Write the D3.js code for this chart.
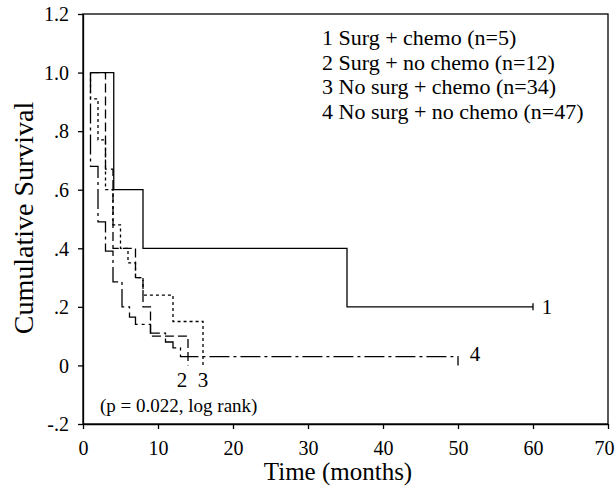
<!DOCTYPE html>
<html>
<head>
<meta charset="utf-8">
<script src="https://cdn.jsdelivr.net/npm/d3@7"></script>
<style>
  body{margin:0;background:#fff;}
  svg text{font-family:"Liberation Serif","Times New Roman",serif;fill:#000;}
</style>
</head>
<body>
<svg id="svg" width="616" height="490"></svg>
<script>
// axis ticks
var xTicks=[0,10,20,30,40,50,60,70];
var yTicks=[-0.2,0,0.2,0.4,0.6,0.8,1.0,1.2];
var yTickLabels=["-.2","0",".2",".4",".6",".8","1.0","1.2"];

// groups (legend)
var groupNames=["1 Surg + chemo (n=5)","2 Surg + no chemo (n=12)","3 No surg + chemo (n=34)","4 No surg + no chemo (n=47)"];
var groupIds=["1","2","3","4"];

// survival steps: [time, survival after drop]
var startTime=1;
var surv1=[[4.1,0.6],[8,0.4],[35.2,0.2]];
var surv2=[[3,0.67],[4,0.4],[7,0.3],[8,0.2],[9,0.1],[14,0]];
var surv3=[[1,0.91],[2,0.77],[3,0.6],[4,0.48],[5,0.4],[6,0.35],[7,0.3],[8,0.24],[12,0.15],[16,0]];
var surv4=[[1,0.68],[2,0.49],[3,0.39],[4,0.285],[5.2,0.2],[6.2,0.165],[7,0.14],[9,0.11],[11,0.08],[12,0.06],[13,0.03],[50,0]];
var endTime=[60,14,16,50];
var censored1=[[60,0.2]];

var plot={left:83,right:608,top:14,bottom:424};
var lw=1.3;

var x=d3.scaleLinear().domain([0,70]).range([plot.left,plot.right]);
var y=d3.scaleLinear().domain([-0.2,1.2]).range([plot.bottom,plot.top]);

var svg=d3.select('svg');

// frame
svg.append('rect')
  .attr('x',plot.left).attr('y',plot.top)
  .attr('width',plot.right-plot.left).attr('height',plot.bottom-plot.top)
  .attr('fill','none').attr('stroke','#000').attr('stroke-width',lw);

var xAxis=svg.append('g')
  .attr('transform','translate(0,'+plot.bottom+')')
  .call(d3.axisBottom(x).tickValues(xTicks).tickSize(5).tickSizeOuter(0).tickPadding(7));
var yAxis=svg.append('g')
  .attr('transform','translate('+plot.left+',0)')
  .call(d3.axisLeft(y).tickValues(yTicks).tickSize(5).tickSizeOuter(0).tickPadding(9)
    .tickFormat(function(d,i){return yTickLabels[i];}));
[xAxis,yAxis].forEach(function(a){
  a.selectAll('path,line').attr('stroke','#000').attr('stroke-width',lw);
  a.selectAll('text').attr('font-family','Liberation Serif').attr('font-size',20).attr('fill','#000');
});
xAxis.selectAll('text').attr('dy','0.95em');
// last label sits at the page edge, nudge it in
xAxis.selectAll('text').filter(function(d){return d===70;}).attr('dx',-4);
yAxis.selectAll('text').attr('dy','0.34em');

// step paths
function stepPath(steps,tEnd){
  var p='M'+x(startTime)+','+y(1);
  steps.forEach(function(s){
    p+='H'+x(s[0])+'V'+y(s[1]);
  });
  var last=steps[steps.length-1];
  if(tEnd>last[0]) p+='H'+x(tEnd);
  return p;
}

var curves=[
  {steps:surv1,end:endTime[0],dash:null},
  {steps:surv2,end:endTime[1],dash:'9,4'},
  {steps:surv3,end:endTime[2],dash:'3,3'},
  {steps:surv4,end:endTime[3],dash:'20,4,3,4'}
];

svg.append('g').selectAll('path')
  .data(curves)
  .enter()
  .append('path')
  .attr('d',function(d){return stepPath(d.steps,d.end);})
  .attr('fill','none')
  .attr('stroke','#000')
  .attr('stroke-width',lw)
  .attr('stroke-dasharray',function(d){return d.dash;});

// censor tick
svg.selectAll('.cens')
  .data(censored1)
  .enter()
  .append('line')
  .attr('class','cens')
  .attr('x1',function(d){return x(d[0]);}).attr('x2',function(d){return x(d[0]);})
  .attr('y1',function(d){return y(d[1])-3.5;}).attr('y2',function(d){return y(d[1])+3.5;})
  .attr('stroke','#000').attr('stroke-width',lw);

// curve end labels
var endLabels=[
  {id:groupIds[0],t:60,v:0.2,dx:14,dy:7},
  {id:groupIds[1],t:14,v:0,dx:-6,dy:22},
  {id:groupIds[2],t:16,v:0,dx:0,dy:22},
  {id:groupIds[3],t:50,v:0.03,dx:17,dy:4}
];
svg.selectAll('.endlab')
  .data(endLabels)
  .enter()
  .append('text')
  .attr('class','endlab')
  .attr('x',function(d){return x(d.t)+d.dx;})
  .attr('y',function(d){return y(d.v)+d.dy;})
  .attr('text-anchor','middle')
  .attr('font-size',21)
  .text(function(d){return d.id;});

// legend
svg.append('g').selectAll('text')
  .data(groupNames)
  .enter()
  .append('text')
  .attr('x',322)
  .attr('y',function(d,i){return 45+i*24.7;})
  .attr('font-size',22)
  .text(function(d){return d;});

svg.append('text')
  .attr('x',100).attr('y',412)
  .attr('font-size',19)
  .text('(p = 0.022, log rank)');

// axis titles
svg.append('text')
  .attr('x',338).attr('y',480)
  .attr('text-anchor','middle')
  .attr('font-size',25)
  .text('Time (months)');
svg.append('text')
  .attr('transform','translate(33,218) rotate(-90)')
  .attr('text-anchor','middle')
  .attr('font-size',28)
  .text('Cumulative Survival');
</script>
</body>
</html>
